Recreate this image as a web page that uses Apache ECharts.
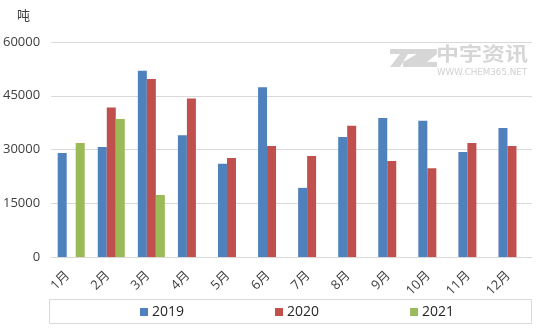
<!DOCTYPE html>
<html>
<head>
<meta charset="utf-8">
<script src="https://cdn.jsdelivr.net/npm/echarts@6/dist/echarts.min.js"></script>
<style>
  html, body { margin: 0; padding: 0; background: #fff; }
  #chart { width: 554px; height: 329px; }
</style>
</head>
<body>
<div id="chart"></div>
<script>
// Monthly volumes (tonnes)
const months = ['1月', '2月', '3月', '4月', '5月', '6月', '7月', '8月', '9月', '10月', '11月', '12月'];
const seriesNames = ['2019', '2020', '2021'];
const values2019 = [29000, 30700, 52000, 34000, 26000, 47400, 19300, 33500, 38800, 38000, 29300, 36000];
const values2020 = [null, 41700, 49700, 44200, 27600, 31000, 28200, 36600, 26800, 24800, 31800, 31000];
const values2021 = [31800, 38500, 17300, null, null, null, null, null, null, null, null, null];
const yTicks = [0, 15000, 30000, 45000, 60000];

const colors = ['#4F81BD', '#C0504D', '#9BBB59'];
const font = '"Open Sans", "Noto Sans CJK SC", sans-serif';
const allValues = [values2019, values2020, values2021];
const logoGrey = '#d6d6d6';

const chart = echarts.init(document.getElementById('chart'), null, { renderer: 'canvas' });

chart.setOption({
  animation: false,
  backgroundColor: '#ffffff',
  textStyle: { fontFamily: font },
  grid: { left: 51, right: 22, top: 42, bottom: 72, containLabel: false },
  legend: {
    data: seriesNames,
    left: 135,
    top: 300,
    itemWidth: 8,
    itemHeight: 8,
    itemGap: 91,
    icon: 'rect',
    textStyle: { fontFamily: font, fontSize: 14, color: '#262626', padding: [0, 0, 0, -1] }
  },
  graphic: [
    // legend frame
    { type: 'rect', left: 47, top: 297, shape: { width: 482, height: 24 },
      style: { fill: 'none', stroke: '#d9d9d9', lineWidth: 1 }, z: -1 },
    // unit label
    { type: 'text', left: 17, top: 9,
      style: { text: '吨', fontSize: 13, fill: '#404040', fontFamily: '"Noto Sans CJK SC", sans-serif' } },
    // watermark: "7" stroke of the logo
    { type: 'polygon', z: 0, silent: true,
      shape: { points: [[390, 49], [411, 49], [400, 67], [390, 67], [400, 54], [390, 54]] },
      style: { fill: logoGrey } },
    // watermark: "Z" stroke of the logo
    { type: 'polygon', z: 0, silent: true,
      shape: { points: [[408, 49], [437, 49], [437, 54], [427, 62], [437, 62], [437, 67],
                        [403, 67], [403, 62], [417, 54], [408, 54]] },
      style: { fill: logoGrey } },
    { type: 'text', left: 436, top: 44, scaleX: 1.0, scaleY: 0.85,
      style: { text: '中宇资讯', fontSize: 23, fontWeight: 'bold', fill: logoGrey, fontFamily: '"Noto Sans CJK SC", sans-serif' }, z: 0 },
    { type: 'text', left: 437, top: 69, scaleX: 1.09,
      style: { text: 'WWW.CHEM365.NET', fontSize: 8, fill: '#d0d0d0', fontFamily: '"DejaVu Sans", sans-serif' }, z: 0 }
  ],
  xAxis: {
    type: 'category',
    data: months,
    axisLine: { show: true, lineStyle: { color: '#d9d9d9', width: 1 } },
    axisTick: { show: false },
    axisLabel: { rotate: 45, fontSize: 13, color: '#404040', margin: 13, interval: 0,
                 padding: [0, 5, 0, 0], fontFamily: font }
  },
  yAxis: {
    type: 'value',
    min: yTicks[0],
    max: yTicks[yTicks.length - 1],
    interval: yTicks[1] - yTicks[0],
    axisLine: { show: false },
    axisTick: { show: false },
    axisLabel: { fontSize: 13, color: '#404040', margin: 11, fontFamily: font,
                 formatter: (v) => String(v) },
    splitLine: { lineStyle: { color: '#d9d9d9', width: 1 } }
  },
  series: seriesNames.map((name, i) => ({
    name,
    type: 'bar',
    data: allValues[i],
    barWidth: 9,
    barGap: '0%',
    itemStyle: { color: colors[i] }
  }))
});
</script>
</body>
</html>
